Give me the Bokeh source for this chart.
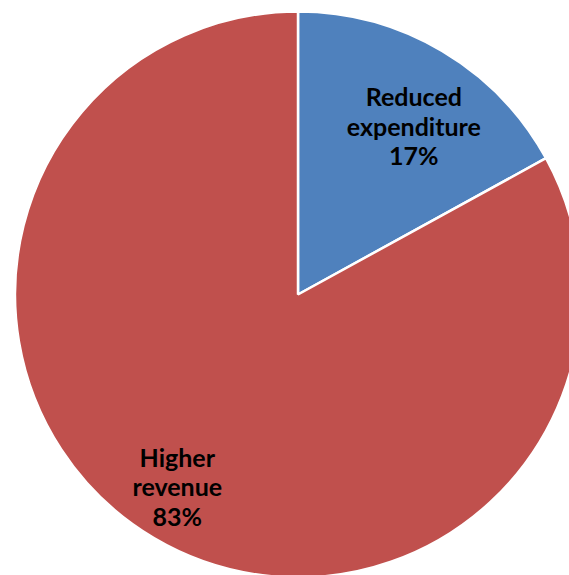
import math
from bokeh.plotting import figure
from bokeh.models import Range1d, ColumnDataSource
from bokeh.core.properties import value
from bokeh.embed import file_html
from bokeh.resources import INLINE

categories = ["Reduced expenditure", "Higher revenue"]
label_lines = [["Reduced", "expenditure"], ["Higher", "revenue"]]
shares = [17, 83]
colors = ["#4F81BD", "#C0504D"]

W, H = 569, 575
cx, cy, R = 297.5, H - 294, 283

p = figure(width=W, height=H, output_backend="svg", toolbar_location=None,
           x_range=Range1d(0, W), y_range=Range1d(0, H), min_border=0)
p.axis.visible = False
p.grid.visible = False
p.outline_line_color = None
p.background_fill_color = "white"

total = sum(shares)
# slices drawn clockwise from 12 o'clock
starts, ends = [], []
a = math.pi / 2
for s in shares:
    sweep = 2 * math.pi * s / total
    ends.append(a)
    starts.append(a - sweep)
    a -= sweep

src = ColumnDataSource(dict(x=[cx] * len(shares), y=[cy] * len(shares),
                            start=starts, end=ends, color=colors))
p.wedge(x="x", y="y", radius=R, start_angle="start", end_angle="end",
        fill_color="color", line_color="white", line_width=2.5, source=src)

# label placement: radius and angular offset from slice bisector
label_r = [204.5, 226.5]
label_da = [-3.9, -1.6]  # degrees
tx, ty, tt = [], [], []
for i, s in enumerate(shares):
    mid = (starts[i] + ends[i]) / 2 + math.radians(label_da[i])
    lx = cx + label_r[i] * math.cos(mid)
    ly = cy + label_r[i] * math.sin(mid)
    lines = label_lines[i] + [f"{s}%"]
    n = len(lines)
    for j, t in enumerate(lines):
        tx.append(lx)
        ty.append(ly + (n - 1) / 2 * 29.5 - j * 29.5)
        tt.append(t)

p.text(x=tx, y=ty, text=tt, text_align="center", text_baseline="middle",
       text_font=value("Lato"), text_font_style="bold", text_font_size="25px",
       text_color="black")

open("out.html", "w").write(file_html(p, INLINE))
